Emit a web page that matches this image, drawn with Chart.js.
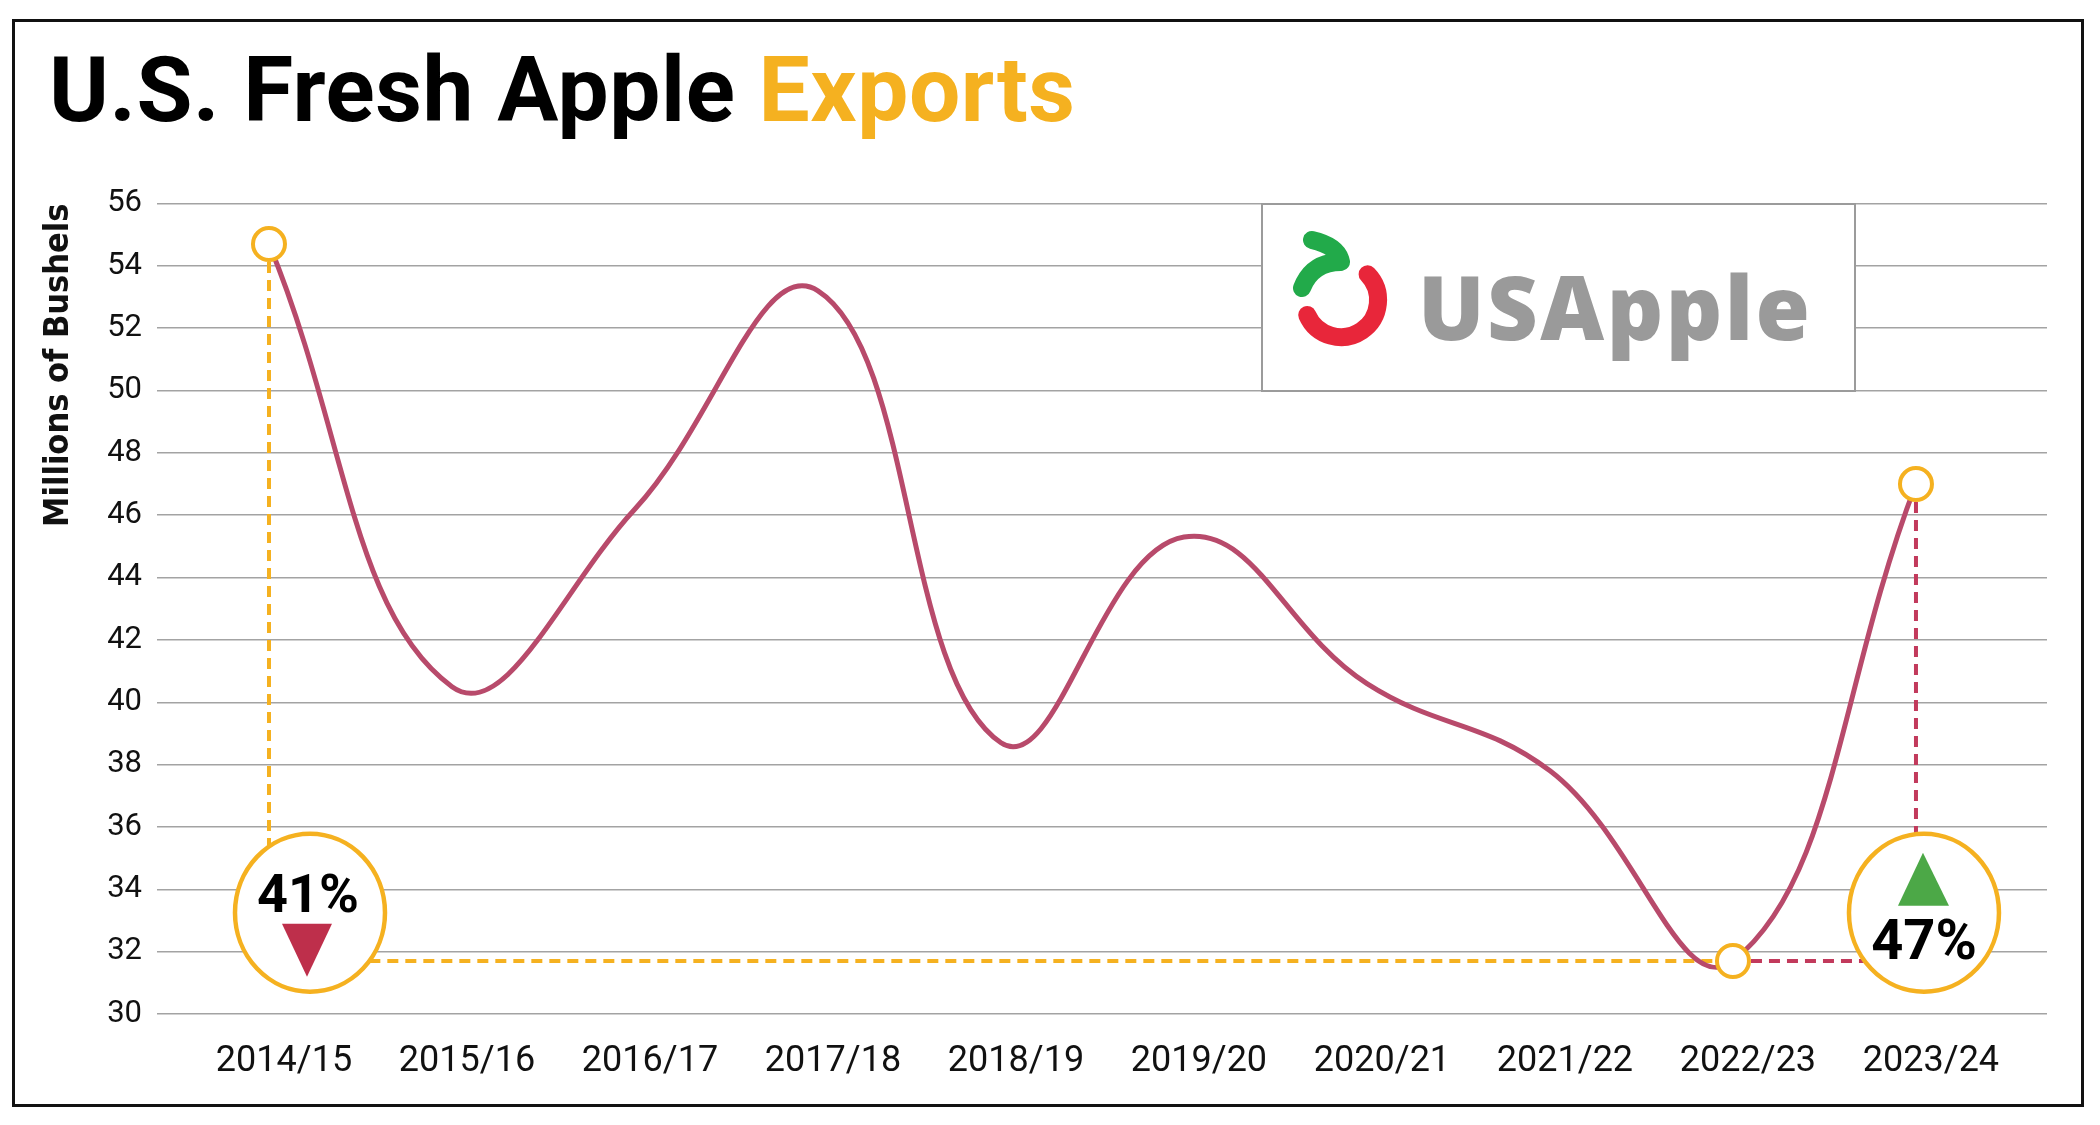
<!DOCTYPE html>
<html>
<head>
<meta charset="utf-8">
<script src="https://cdn.jsdelivr.net/npm/chart.js@4.4.1/dist/chart.umd.min.js"></script>
<style>
  html, body { margin: 0; padding: 0; background: #fff; }
  #wrap { position: relative; width: 2100px; height: 1125px; overflow: hidden; background: #fff; }
  #chart { position: absolute; left: 0; top: 0; }
  #logo { position: absolute; left: 1261px; top: 203px; width: 595px; height: 189px;
          border: 2px solid #9b9b9b; box-sizing: border-box; background: #fff; }
  #over { position: absolute; left: 0; top: 0; pointer-events: none; }
  #frame { position: absolute; left: 12px; top: 19px; width: 2072px; height: 1088px;
           border: 3px solid #111; box-sizing: border-box; pointer-events: none; }
</style>
</head>
<body>
<div id="wrap">
  <canvas id="chart" width="2100" height="1125"></canvas>
  <div id="logo"></div>
  <svg id="over" width="2100" height="1125" viewBox="0 0 2100 1125">
    <text x="49" y="121" font-family="Roboto, 'Noto Sans', sans-serif" font-weight="700" font-size="91"
          textLength="1026" lengthAdjust="spacing" fill="#000">U.S. Fresh Apple <tspan fill="#F5B120">Exports</tspan></text>
    <path d="M 1312 240 Q 1338 246 1341 262 Q 1312 262 1302 288" fill="none" stroke="#22AA4A"
          stroke-width="18" stroke-linecap="round" stroke-linejoin="round"/>
    <path d="M 1367.6 274.3 A 37 37 0 1 1 1307.2 315" fill="none" stroke="#E8263A"
          stroke-width="18" stroke-linecap="round"/>
    <text x="1418" y="340" font-family="'Open Sans', Lato, sans-serif" font-weight="800" font-size="88"
          textLength="392" lengthAdjust="spacing" fill="#9a9a9a">USApple</text>
  </svg>
  <div id="frame"></div>
</div>
<script>
// ---- data ----
const years = ['2014/15', '2015/16', '2016/17', '2017/18', '2018/19', '2019/20', '2020/21', '2021/22', '2022/23', '2023/24'];
const exportsMillionBushels = [54.7, 40.5, 46.2, 53.2, 38.7, 45.3, 40.6, 37.8, 31.7, 47.0];
const yTickValues = [30, 32, 34, 36, 38, 40, 42, 44, 46, 48, 50, 52, 54, 56];
const markedPoints = [0, 8, 9];          // indexes with open circles
const dropLabel = '41%';                 // 2014/15 -> 2022/23
const riseLabel = '47%';                 // 2022/23 -> 2023/24

// ---- styles ----
const YEL = '#F5B120', CRIM = '#C23A5C', LINE = '#B84A6B', GREEN = '#4CA847', TRI_RED = '#BE2F4B';
const BADGE_VALUE = 33.25;

const annotPlugin = {
  id: 'annot',
  beforeDatasetsDraw(chart) {
    const { ctx, scales: { x, y } } = chart;
    const pt = i => ({ x: x.getPixelForValue(i), y: y.getPixelForValue(exportsMillionBushels[i]) });
    const p0 = pt(0), p8 = pt(8), p9 = pt(9);
    const cy = y.getPixelForValue(BADGE_VALUE);
    const L = { x: p0.x + 41, y: cy }, R = { x: p9.x + 8, y: cy };
    const rx = 75, ry = 79, pr = 18;
    const edgeX = (c, yy, side) => c.x + side * rx * Math.sqrt(Math.max(0, 1 - ((yy - c.y) / ry) ** 2));
    const topY = (c, xx) => c.y - ry * Math.sqrt(Math.max(0, 1 - ((xx - c.x) / rx) ** 2));
    ctx.save();
    ctx.lineWidth = 4;
    ctx.setLineDash([11, 7]);
    const seg = (a, b, c, d, col) => { ctx.strokeStyle = col; ctx.beginPath(); ctx.moveTo(a, b); ctx.lineTo(c, d); ctx.stroke(); };
    seg(p0.x, p0.y + pr, p0.x, topY(L, p0.x), YEL);
    seg(edgeX(L, p8.y, 1), p8.y, p8.x - pr, p8.y, YEL);
    seg(p8.x + pr, p8.y, edgeX(R, p8.y, -1), p8.y, CRIM);
    seg(p9.x, p9.y + pr, p9.x, topY(R, p9.x), CRIM);
    ctx.restore();
  },
  afterDatasetsDraw(chart) {
    const { ctx, scales: { x, y } } = chart;
    const cy = y.getPixelForValue(BADGE_VALUE);
    const L = { x: x.getPixelForValue(0) + 41, y: cy }, R = { x: x.getPixelForValue(9) + 8, y: cy };
    ctx.save();
    [L, R].forEach(c => {
      ctx.beginPath();
      ctx.ellipse(c.x, c.y, 75, 79, 0, 0, Math.PI * 2);
      ctx.fillStyle = '#fff'; ctx.fill();
      ctx.lineWidth = 4.5; ctx.strokeStyle = YEL; ctx.stroke();
    });
    // down triangle
    ctx.fillStyle = TRI_RED;
    ctx.beginPath();
    ctx.moveTo(L.x - 28, L.y + 11); ctx.lineTo(L.x + 22, L.y + 11); ctx.lineTo(L.x - 3, L.y + 64); ctx.closePath(); ctx.fill();
    // up triangle
    ctx.fillStyle = GREEN;
    ctx.beginPath();
    ctx.moveTo(R.x - 26, R.y - 7); ctx.lineTo(R.x + 25, R.y - 7); ctx.lineTo(R.x - 1, R.y - 60); ctx.closePath(); ctx.fill();
    ctx.fillStyle = '#000';
    ctx.textAlign = 'center'; ctx.textBaseline = 'alphabetic';
    ctx.font = '700 54px Roboto, "Noto Sans", sans-serif';
    ctx.fillText(dropLabel, L.x - 2, L.y - 1);
    ctx.font = '700 56px Roboto, "Noto Sans", sans-serif';
    ctx.fillText(riseLabel, R.x, R.y + 46);
    ctx.restore();
  }
};

const ctx = document.getElementById('chart').getContext('2d');
new Chart(ctx, {
  type: 'line',
  data: {
    datasets: [{
      data: exportsMillionBushels.map((v, i) => ({ x: i, y: v })),
      borderColor: LINE,
      borderWidth: 5,
      tension: 0.42,
      fill: false,
      pointRadius: exportsMillionBushels.map((v, i) => markedPoints.includes(i) ? 16 : 0),
      pointBorderColor: YEL,
      pointBackgroundColor: '#fff',
      pointBorderWidth: 4,
      clip: false
    }]
  },
  options: {
    responsive: false,
    animation: false,
    devicePixelRatio: 1,
    layout: { padding: { left: 20, right: 53, top: 203.5, bottom: 51 } },
    plugins: { legend: { display: false }, tooltip: { enabled: false }, title: { display: false } },
    scales: {
      x: {
        type: 'linear',
        min: -0.612,
        max: 9.716,
        grid: { display: false },
        border: { display: false },
        afterBuildTicks: s => { s.ticks = years.map((_, i) => ({ value: i })); },
        afterFit: s => { s.height = 60; },
        ticks: {
          autoSkip: false, maxRotation: 0, padding: 18, labelOffset: 15,
          color: '#111',
          font: { family: 'Roboto, "Noto Sans", sans-serif', size: 36 },
          callback: v => years[v] ?? ''
        }
      },
      y: {
        min: 30,
        max: 56,
        afterBuildTicks: s => { s.ticks = yTickValues.map(v => ({ value: v })); },
        afterFit: s => { s.width = 137; },
        grid: { color: '#a3a3a3', lineWidth: 1.5, drawTicks: false },
        border: { display: false },
        ticks: {
          padding: 15, color: '#111',
          font: { family: 'Roboto, "Noto Sans", sans-serif', size: 31 }
        },
        title: {
          display: true,
          text: 'Millions of Bushels',
          align: 'end',
          color: '#111',
          padding: { top: 18.6, bottom: 0 },
          font: { family: '"DejaVu Sans Condensed", "Liberation Sans Narrow", sans-serif', size: 34, weight: 'bold' }
        }
      }
    }
  },
  plugins: [annotPlugin]
});
</script>
</body>
</html>
